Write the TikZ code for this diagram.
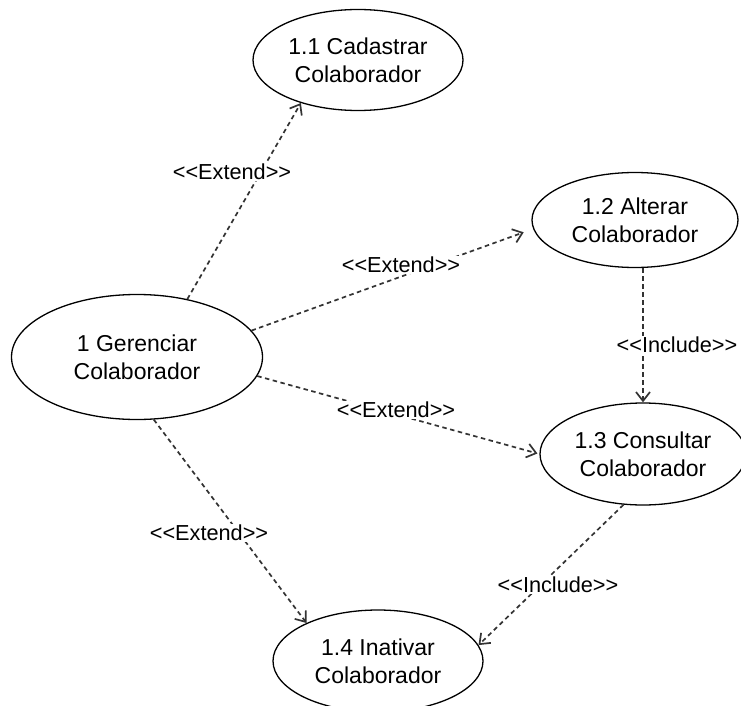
\documentclass[tikz,border=0pt]{standalone}
\usepackage{fontspec}
\setmainfont{Liberation Sans}
\usetikzlibrary{arrows.meta,shapes.geometric}
\newcommand{\stlt}{{<}{<}}
\newcommand{\stgt}{{>}{>}}
\begin{document}
\begin{tikzpicture}[x=1pt,y=-1pt,
  usecase/.style={ellipse,draw,line width=1.3pt,inner sep=0pt,
    minimum width=210pt,minimum height=101pt,align=center,
    font=\fontsize{23}{28}\selectfont},
  rel/.style={draw=black!80,line width=1.7pt,dash pattern=on 4.5pt off 3.5pt,
    -{Straight Barb[length=9pt,width=14pt]}},
  stereo/.style={fill=white,inner sep=1pt,font=\fontsize{21.7}{26}\selectfont}]
\useasboundingbox (0,0) rectangle (741,706);

% use cases
\node[usecase] (cad) at (358,60) {1.1 Cadastrar\\Colaborador};
\node[usecase,minimum width=206pt,minimum height=95pt] (alt) at (635,220) {1.2 Alterar\\Colaborador};
\node[usecase,minimum width=251pt,minimum height=125pt] (ger) at (137,357) {1 Gerenciar\\Colaborador};
\node[usecase,minimum width=206pt,minimum height=102pt] (con) at (643,454) {1.3 Consultar\\Colaborador};
\node[usecase,minimum height=102pt] (ina) at (378,661) {1.4 Inativar\\Colaborador};

% relationships
\draw[rel] (ger.49.6) -- (cad.-143);
\draw[rel,shorten >=10pt] (ger.13.5) -- (alt.185);
\draw[rel,shorten >=2pt] (ger.-9) -- (con.180);
\draw[rel] (ger.-75.6) -- (ina.152.5);
\draw[rel] (alt.south -| con.north) -- (con.north);
\draw[rel] (con.-111) -- (ina.9.5);

% stereotypes
\node[stereo] (e1) at (232,172) {\stlt Extend\stgt};
\node[stereo] (e2) at (401,265) {\stlt Extend\stgt};
\node[stereo] (e3) at (396,410) {\stlt Extend\stgt};
\node[stereo] (e4) at (209,533) {\stlt Extend\stgt};
\node[stereo] (i1) at (677,345) {\stlt Include\stgt};
\node[stereo] (i2) at (558,585) {\stlt Include\stgt};
\end{tikzpicture}
\end{document}
